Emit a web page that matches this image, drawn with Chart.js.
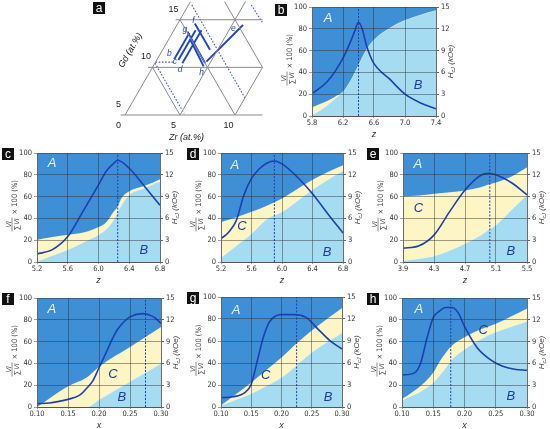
<!DOCTYPE html>
<html><head><meta charset="utf-8">
<script src="https://cdn.jsdelivr.net/npm/chart.js@4.4.1/dist/chart.umd.min.js"></script>
<style>
html,body{margin:0;padding:0;background:#fff;width:550px;height:429px;overflow:hidden;position:relative}
canvas{position:absolute}
.tag{position:absolute;width:12px;height:12px;background:#111;color:#fff;font:12px/12px 'Liberation Sans',Arial,sans-serif;text-align:center;z-index:5}
</style></head><body>
<script>
// ---------- DATA ----------
// Panel a: ternary section, points given as [Zr at.%, Gd at.%]
const aTickGd = [5, 10, 15];
const aTickZr = [0, 5, 10];
const aGrid = [
  [[0,5],[12.5,5]], [[0,10],[10,10]], [[0,15],[7.5,15]],
  [[0,5],[0,16.9]], [[5,5],[5,16.9]], [[10,5],[10,10]],
  [[0,10],[5,5]], [[0,15],[10,5]], [[3.1,16.9],[10,10]],
  [[-0.4,5],[0,5]], [[-0.4,10],[0,10]], [[-0.4,15],[0,15]]
];
const aDotted = [
  [[0,10.55],[1.6,10.55]], [[0,10.45],[5.3,5.15]],
  [[0.3,16.55],[10.0,6.8]], [[5.7,16.55],[7.6,14.75]]
];
const aSeriesNames = ['b','c','d','g','f','h','e'];
const aSeriesLines = [
  [[1.55,10.85],[1.55,13.6]],
  [[1.97,10.77],[1.97,13.9]],
  [[2.5,10.43],[2.5,13.9]],
  [[1.3,13.75],[4.55,10.45]],
  [[1.55,14.6],[4.3,11.85]],
  [[1.9,13.0],[4.6,10.1]],
  [[4.6,10.6],[6.0,14.45]]
];
const aSeriesLabelAt = [[0.79,11.48],[1.75,10.59],[2.6,9.8],[0.95,14.0],[1.28,14.87],[4.75,9.44],[5.3,14.1]];

// Panel b
const bX = [5.8,5.9,6.0,6.1,6.2,6.3,6.4,6.5,6.6,6.8,7.0,7.2,7.4];
const bVolB = [1,5,10,16,22.5,33,47,61,70,80.7,88,93,97];
const bVolC = [7,6,4,2,0,0,0,0,0,0,0,0,0];
const bHx = [5.8,6.0,6.2,6.3,6.35,6.4,6.45,6.5,6.55,6.6,6.7,6.8,6.9,7.0,7.2,7.4];
const bHc = [3.07,4.77,7.98,10.3,11.65,12.9,11.9,9.8,8.3,7.2,6.0,5.1,4.0,3.0,1.8,1.0];
const bTicks = [5.8,6.2,6.6,7.0,7.4];
// Panel c
const cX = [5.2,5.4,5.6,5.8,6.0,6.1,6.2,6.25,6.3,6.4,6.5,6.6,6.8];
const cVolB = [0.6,6,11.3,18,25,30,39,46,52.6,61.8,65.5,68,74];
const cVolC = [19.9,17,13.7,9,7,6.4,7.5,5,6.1,3,2.3,2,2];
const cHx = [5.2,5.4,5.6,5.8,6.0,6.1,6.2,6.25,6.4,6.6,6.8];
const cHc = [1.1,1.7,3.5,7.0,10.6,12.5,13.6,14.0,12.9,10.4,7.8];
const cTicks = [5.2,5.6,6.0,6.4,6.8];
// Panel d
const dX = [5.2,5.4,5.6,5.8,6.0,6.2,6.4,6.6,6.8];
const dVolB = [4,15,26,39.4,46,56,66.4,75.5,84];
const dVolC = [32.7,26,20,12.3,12.3,11,9,7,4.7];
const dHx = [5.2,5.3,5.4,5.5,5.6,5.7,5.8,5.9,6.0,6.2,6.4,6.6,6.8];
const dHc = [3.2,4.1,5.7,9.2,11.5,12.8,13.6,13.9,13.5,11.7,9.4,6.65,4.0];
const dTicks = [5.2,5.6,6.0,6.4,6.8];
// Panel e
const eX = [3.9,4.1,4.3,4.5,4.7,4.9,5.0,5.1,5.3,5.5];
const eVolB = [1.2,3,5.5,10.5,17,24.5,29.4,34,48,61.7];
const eVolC = [58.8,58,57.1,53.5,48.6,44,41.6,39,30.5,25.3];
const eHx = [3.9,4.1,4.3,4.5,4.7,4.9,5.0,5.1,5.3,5.5];
const eHc = [1.9,2.2,3.7,6.9,9.9,11.9,12.2,12.0,10.9,9.25];
const eTicks = [3.9,4.3,4.7,5.1,5.5];
// Panel f
const fX = [0.10,0.15,0.18,0.20,0.25,0.30];
const fVolB = [0,0,0,6.7,23.3,40];
const fVolC = [0,19,27,30.3,31.7,33.4];
const fHx = [0.10,0.12,0.15,0.16,0.17,0.18,0.19,0.20,0.21,0.22,0.23,0.24,0.25,0.27,0.28,0.29,0.30];
const fHc = [0.46,0.55,1.05,1.3,1.7,2.57,3.6,5.4,7.2,9.1,10.7,11.7,12.4,12.85,12.7,12.3,11.5];
const fTicks = [0.10,0.15,0.20,0.25,0.30];
// Panel g
const gX = [0.10,0.15,0.18,0.20,0.225,0.25,0.30];
const gVolB = [1.5,12.2,20.7,26.8,38,49.7,67.4];
const gVolC = [0,10.1,15.3,18.2,20,19.8,22.6];
const gHx = [0.10,0.12,0.14,0.15,0.16,0.17,0.18,0.19,0.20,0.22,0.24,0.26,0.28,0.30];
const gHc = [1.28,1.4,2.0,3.1,6.3,9.5,11.6,12.4,12.6,12.6,12.25,10.65,9.05,7.9];
const gTicks = [0.10,0.15,0.20,0.25,0.30];
// Panel h
const hX = [0.10,0.13,0.15,0.16,0.17,0.18,0.20,0.225,0.25,0.30];
const hVolB = [6.4,14.3,22.5,29,36,43.8,52.9,62,68.7,78.7];
const hVolC = [0.9,5.2,9.1,12.6,13.8,12.7,11.1,9,7.6,11.6];
const hHx = [0.10,0.12,0.13,0.14,0.15,0.16,0.17,0.18,0.19,0.20,0.22,0.24,0.26,0.28,0.30];
const hHc = [4.4,4.7,6.1,9.5,12.3,13.2,13.7,13.7,12.95,11.1,8.2,6.6,5.65,5.2,5.06];
const hTicks = [0.10,0.15,0.20,0.25,0.30];

const yLeftTicks = [0,20,40,60,80,100];
const yRightTicks = [0,3,6,9,12,15];

// ---------- STYLE ----------
const COL_A = '#3f8fd6', COL_B = '#a6dcf2', COL_C = '#fdf5c4', COL_LINE = '#1d3fb5';
const GRID = 'rgba(45,45,45,0.5)';
const NARROW = "'Liberation Sans Narrow','Arial Narrow','DejaVu Sans Condensed',sans-serif";
const SANS = "'Liberation Sans',Arial,sans-serif";

function tag(letter, x, y){
  const d = document.createElement('div');
  d.className='tag'; d.textContent=letter;
  d.style.left=x+'px'; d.style.top=y+'px';
  document.body.appendChild(d);
}
function makeCanvas(x,y,w,h){
  const c=document.createElement('canvas');
  c.width=w; c.height=h; c.style.left=x+'px'; c.style.top=y+'px';
  c.style.width=w+'px'; c.style.height=h+'px';
  document.body.appendChild(c); return c;
}

// ---------- PANEL a ----------
(function(){
  const toXY = p => ({x: p[0] + 0.5*(p[1]-5), y: (p[1]-5)*Math.sqrt(3)/2});
  const cv = makeCanvas(100,0,170,145);
  const ds = [];
  aGrid.forEach(s => ds.push({data:s.map(toXY), borderColor:'#8a8a8a', borderWidth:1}));
  aDotted.forEach(s => ds.push({data:s.map(toXY), borderColor:'#3a5fd0', borderWidth:1.1, borderDash:[1.6,1.6]}));
  aSeriesLines.forEach(s => ds.push({data:s.map(toXY), borderColor:'#1f45c8', borderWidth:1.9}));
  const textPlugin = {id:'atext', afterDraw(chart){
    const ctx=chart.ctx, xs=chart.scales.x, ys=chart.scales.y;
    const P = p => { const q=toXY(p); return [xs.getPixelForValue(q.x), ys.getPixelForValue(q.y)]; };
    ctx.save(); ctx.fillStyle='#222'; ctx.textAlign='center'; ctx.textBaseline='middle';
    ctx.font='9px '+SANS;
    aTickGd.forEach(g => { const [px,py]=P([0,g]); ctx.fillText(String(g), px-6.5, py-10.5); });
    aTickZr.forEach(z => { const [px,py]=P([z,5]); ctx.fillText(String(z), px-6.5, py+11); });
    ctx.font='italic 9px '+SANS;
    let [gx,gy]=P([0,10]);
    ctx.save(); ctx.translate(gx-22, gy-17); ctx.rotate(-Math.PI/3); ctx.fillText('Gd (at.%)',0,0); ctx.restore();
    let [zx,zy]=P([5.6,5]);
    ctx.fillText('Zr (at.%)', zx, zy+22);
    ctx.fillStyle='#2a4bc0'; ctx.font='italic 8.5px '+SANS;
    aSeriesNames.forEach((n,i)=>{ const [px,py]=P(aSeriesLabelAt[i]); ctx.fillText(n,px,py); });
    ctx.restore();
  }};
  new Chart(cv,{type:'line', data:{datasets:ds.map(d=>Object.assign({pointRadius:0, fill:false, tension:0, clip:false},d))},
    options:{responsive:false, animation:false,
      layout:{padding:{left:14,right:7,top:0,bottom:30}},
      plugins:{legend:{display:false}, tooltip:{enabled:false}},
      scales:{x:{type:'linear',display:false,min:-1,max:12.545}, y:{type:'linear',display:false,min:0,max:10.4545}}},
    plugins:[textPlugin]});
  tag('a', 93, 2);
})();

// ---------- PANELS b–h ----------
const panels = [
  {n:'b', l:312,t:7,r:436,b:116, xmin:5.8,xmax:7.4, ticks:bTicks, dec:1, xt:'z', xs:bX, vb:bVolB, vc:bVolC, hx:bHx, hc:bHc, peak:6.4,
    labels:[['A',6.006,89.9],['B',7.17,28.4]], tagAt:[275,4]},
  {n:'c', l:37,t:153,r:160,b:262, xmin:5.2,xmax:6.8, ticks:cTicks, dec:1, xt:'z', xs:cX, vb:cVolB, vc:cVolC, hx:cHx, hc:cHc, peak:6.25,
    labels:[['A',5.395,90.8],['B',6.59,11]], tagAt:[2,148]},
  {n:'d', l:221,t:153,r:343,b:262, xmin:5.2,xmax:6.8, ticks:dTicks, dec:1, xt:'z', xs:dX, vb:dVolB, vc:dVolC, hx:dHx, hc:dHc, peak:5.9,
    labels:[['A',5.38,89],['C',5.475,33],['B',6.59,9.2]], tagAt:[187,148]},
  {n:'e', l:403,t:153,r:527,b:262, xmin:3.9,xmax:5.5, ticks:eTicks, dec:1, xt:'z', xs:eX, vb:eVolB, vc:eVolC, hx:eHx, hc:eHc, peak:5.02,
    labels:[['A',4.09,90],['C',4.1,49.5],['B',5.29,10]], tagAt:[367,148]},
  {n:'f', l:37,t:298,r:161,b:407, xmin:0.1,xmax:0.3, ticks:fTicks, dec:2, xt:'x', xs:fX, vb:fVolB, vc:fVolC, hx:fHx, hc:fHc, peak:0.275,
    labels:[['A',0.124,90],['C',0.2226,30.3],['B',0.237,9.2]], tagAt:[2,293]},
  {n:'g', l:221,t:297,r:342,b:407, xmin:0.1,xmax:0.3, ticks:gTicks, dec:2, xt:'x', xs:gX, vb:gVolB, vc:gVolC, hx:gHx, hc:gHc, peak:0.225,
    labels:[['A',0.1248,88.2],['C',0.174,29],['B',0.277,9]], tagAt:[187,292]},
  {n:'h', l:402,t:298,r:527,b:407, xmin:0.1,xmax:0.3, ticks:hTicks, dec:2, xt:'x', xs:hX, vb:hVolB, vc:hVolC, hx:hHx, hc:hHc, peak:0.178,
    labels:[['A',0.127,90],['C',0.23,70],['B',0.274,10]], tagAt:[367,293]}
];

function titlesPlugin(p){
  return {id:'titles'+p.n, afterDraw(chart){
    const ctx=chart.ctx, ca=chart.chartArea, xs=chart.scales.x, ys=chart.scales.y;
    ctx.save();
    // area labels
    ctx.textAlign='center'; ctx.textBaseline='middle'; ctx.font='italic 13px '+SANS;
    p.labels.forEach(([t,x,y])=>{
      ctx.fillStyle = t==='A' ? '#e8f3ff' : '#1d3c9c';
      ctx.fillText(t, xs.getPixelForValue(x), ys.getPixelForValue(y));
    });
    ctx.fillStyle='#444'; ctx.strokeStyle='#444';
    // left title (fraction)
    const cy=(ca.top+ca.bottom)/2;
    ctx.save(); ctx.translate(ca.left-25, cy); ctx.rotate(-Math.PI/2);
    const fx=-17;
    ctx.font='italic 7.5px '+SANS; ctx.textAlign='center';
    ctx.textBaseline='alphabetic'; ctx.fillText('Vi', fx, -1.2);
    ctx.beginPath(); ctx.moveTo(fx-7,0); ctx.lineTo(fx+7,0); ctx.lineWidth=0.6; ctx.stroke();
    ctx.textBaseline='top'; ctx.fillText('\u2211Vi', fx, 0.8);
    ctx.textAlign='left'; ctx.textBaseline='middle'; ctx.font='7.5px '+NARROW;
    ctx.fillText('\u00d7 100 (%)', -7, 3.4);
    ctx.restore();
    // right title
    ctx.save(); ctx.translate(ca.right+15, cy); ctx.rotate(-Math.PI/2);
    ctx.textBaseline='middle'; ctx.textAlign='left';
    ctx.font='italic 8px '+SANS; const w1=ctx.measureText('H').width;
    ctx.font='italic 5.5px '+SANS; const w2=ctx.measureText('cJ').width;
    ctx.font='italic 8px '+SANS; const w3=ctx.measureText(' (kOe)').width;
    let sx=-(w1+w2+w3)/2;
    ctx.font='italic 8px '+SANS; ctx.fillText('H', sx, 0); sx+=w1;
    ctx.font='italic 5.5px '+SANS; ctx.fillText('cJ', sx, 2); sx+=w2;
    ctx.font='italic 8px '+SANS; ctx.fillText(' (kOe)', sx, 0);
    ctx.restore();
    // x title
    ctx.fillStyle='#333';
    ctx.font='italic 9px '+SANS; ctx.textAlign='center'; ctx.textBaseline='middle';
    ctx.fillText(p.xt, (ca.left+ca.right)/2, ca.bottom+18);
    ctx.restore();
  }};
}

panels.forEach(p=>{
  const L=37,R=28,T=7,B=30;
  const w=p.r-p.l, h=p.b-p.t;
  const cv=makeCanvas(p.l-L, p.t-T, w+L+R, h+T+B);
  const bTop = p.vb.map(v=>v);
  const cTop = p.vb.map((v,i)=>v+p.vc[i]);
  const datasets = [
    {label:'Hc', data:p.hx.map((x,i)=>({x, y:p.hc[i]})), yAxisID:'y1', borderColor:COL_LINE, borderWidth:1.6,
      fill:false, cubicInterpolationMode:'monotone', order:0},
    {label:'peak', data:[{x:p.peak,y:0},{x:p.peak,y:15}], yAxisID:'y1', borderColor:COL_LINE, borderWidth:1,
      borderDash:[2,1.5], fill:false, order:1},
    {label:'B', data:p.xs.map((x,i)=>({x,y:bTop[i]})), yAxisID:'y', borderColor:'rgba(210,240,252,0.9)', borderWidth:0.7,
      backgroundColor:COL_B, fill:'origin', cubicInterpolationMode:'monotone', order:4},
    {label:'C', data:p.xs.map((x,i)=>({x,y:cTop[i]})), yAxisID:'y', borderColor:'rgba(200,230,250,0.9)', borderWidth:0.7,
      backgroundColor:COL_C, fill:'-1', cubicInterpolationMode:'monotone', order:3},
    {label:'A', data:[{x:p.xmin,y:100},{x:p.xmax,y:100}], yAxisID:'y', borderWidth:0,
      backgroundColor:COL_A, fill:'-1', order:2}
  ];
  const tickFont={size:7.5, family:NARROW};
  new Chart(cv,{type:'line', data:{datasets:datasets.map(d=>Object.assign({pointRadius:0},d))},
    options:{responsive:false, animation:false,
      layout:{padding:{top:T,left:0,right:0,bottom:0}},
      plugins:{legend:{display:false}, tooltip:{enabled:false}},
      scales:{
        x:{type:'linear', min:p.xmin, max:p.xmax,
          afterBuildTicks:s=>{s.ticks=p.ticks.map(v=>({value:v}));},
          afterFit:s=>{s.height=B;},
          ticks:{font:tickFont, color:'#333', padding:1, maxRotation:0, autoSkip:false,
            callback:v=>Number(v).toFixed(p.dec)},
          grid:{color:GRID, lineWidth:0.9, tickLength:2, drawTicks:true, z:1},
          border:{color:'#666', width:0.9, z:1}},
        y:{type:'linear', position:'left', min:0, max:100,
          afterBuildTicks:s=>{s.ticks=yLeftTicks.map(v=>({value:v}));},
          afterFit:s=>{s.width=L;},
          ticks:{font:tickFont, color:'#333', padding:2},
          grid:{color:GRID, lineWidth:0.9, tickLength:3, z:1},
          border:{color:'#666', width:0.9, z:1}},
        y1:{type:'linear', position:'right', min:0, max:15,
          afterBuildTicks:s=>{s.ticks=yRightTicks.map(v=>({value:v}));},
          afterFit:s=>{s.width=R;},
          ticks:{font:tickFont, color:'#333', padding:2},
          grid:{drawOnChartArea:false, color:'#666', tickLength:3, z:1},
          border:{color:'#666', width:0.9, z:1}}
      }},
    plugins:[titlesPlugin(p)]});
  tag(p.n, p.tagAt[0], p.tagAt[1]);
});
</script>
</body></html>
